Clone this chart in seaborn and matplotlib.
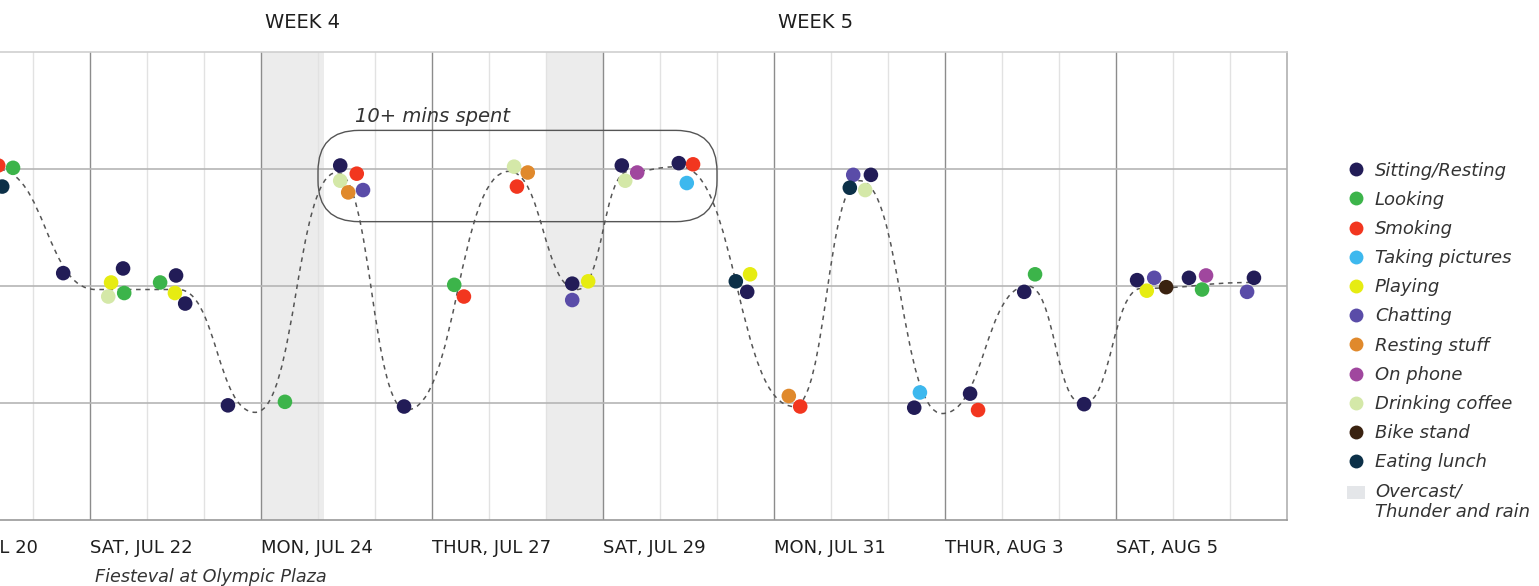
import pandas as pd
import seaborn as sns
import matplotlib.pyplot as plt
from matplotlib.path import Path
from matplotlib.patches import PathPatch, FancyBboxPatch, Patch
from matplotlib.lines import Line2D

sns.set_style('white')
plt.rcParams['font.family'] = ['DejaVu Sans']

# activity categories and their colours
activities = ['Sitting/Resting', 'Looking', 'Smoking', 'Taking pictures', 'Playing',
              'Chatting', 'Resting stuff', 'On phone', 'Drinking coffee', 'Bike stand',
              'Eating lunch']
activity_colors = ['#221c57', '#3cb44a', '#f2361f', '#3db8ee', '#e6ec12',
                   '#5a4ca8', '#e0892c', '#a0479e', '#d4e8a8', '#3a2210',
                   '#0c3048']

# observed dots: position along the sessions axis and time-spent level
dot_x = [1.39, 1.65, 1.46, 2.53, 3.58, 3.37, 3.60, 3.32, 4.23, 4.51, 4.49, 4.67, 5.42,
         6.42, 7.39, 7.68, 7.39, 7.53, 7.79, 8.51, 9.39, 9.56, 10.44, 10.49, 10.68,
         11.46, 11.46, 11.74, 12.33, 12.60, 12.39, 13.33, 13.58, 13.47, 14.33, 14.58, 14.53,
         15.26, 15.46, 16.39, 16.70, 16.33, 16.60, 17.56, 17.46, 18.44, 18.58, 19.39, 19.58,
         20.44, 21.37, 21.67, 21.54, 21.88, 22.28, 22.58, 22.51, 23.42, 23.30]
dot_level = [3.03, 3.01, 2.85, 2.11, 2.15, 2.03, 1.94, 1.91, 2.03, 2.09, 1.94, 1.85, 0.98,
             1.01, 3.03, 2.96, 2.90, 2.80, 2.82, 0.97, 2.01, 1.91, 3.02, 2.85, 2.97,
             2.02, 1.88, 2.04, 3.03, 2.97, 2.90, 3.05, 3.04, 2.88, 2.04, 2.10, 1.95,
             1.06, 0.97, 2.95, 2.95, 2.84, 2.82, 1.09, 0.96, 1.08, 0.94, 1.95, 2.10,
             0.99, 2.05, 2.07, 1.96, 1.99, 2.07, 2.09, 1.97, 2.07, 1.95]
dot_activity = ['Smoking', 'Looking', 'Eating lunch', 'Sitting/Resting', 'Sitting/Resting',
                'Playing', 'Looking', 'Drinking coffee', 'Looking', 'Sitting/Resting',
                'Playing', 'Sitting/Resting', 'Sitting/Resting',
                'Looking', 'Sitting/Resting', 'Smoking', 'Drinking coffee', 'Resting stuff',
                'Chatting', 'Sitting/Resting', 'Looking', 'Smoking', 'Drinking coffee',
                'Smoking', 'Resting stuff',
                'Sitting/Resting', 'Chatting', 'Playing', 'Sitting/Resting', 'On phone',
                'Drinking coffee', 'Sitting/Resting', 'Smoking', 'Taking pictures',
                'Eating lunch', 'Playing', 'Sitting/Resting',
                'Resting stuff', 'Smoking', 'Chatting', 'Sitting/Resting', 'Eating lunch',
                'Drinking coffee', 'Taking pictures', 'Sitting/Resting', 'Sitting/Resting',
                'Smoking', 'Sitting/Resting', 'Looking',
                'Sitting/Resting', 'Sitting/Resting', 'Chatting', 'Playing', 'Bike stand',
                'Sitting/Resting', 'On phone', 'Looking', 'Sitting/Resting', 'Chatting']

# turning points of the dashed trend line
curve_x = [0.3, 1.35, 3.1, 4.55, 5.9, 7.33, 8.55, 10.35, 11.55, 12.45, 13.35,
           15.35, 16.5, 17.95, 19.45, 20.42, 21.45, 23.4]
curve_level = [3.0, 3.0, 1.97, 1.97, 0.92, 2.97, 0.94, 2.98, 1.97, 2.98, 3.02,
               0.97, 2.9, 0.91, 2.0, 0.99, 1.98, 2.03]

date_ticks = [0, 3, 6, 9, 12, 15, 18, 21]
date_labels = ['THUR, JUL 20', 'SAT, JUL 22', 'MON, JUL 24', 'THUR, JUL 27',
               'SAT, JUL 29', 'MON, JUL 31', 'THUR, AUG 3', 'SAT, AUG 5']
week_x = [6, 15]
week_labels = ['WEEK 4', 'WEEK 5']
overcast_start = [6, 11]
overcast_end = [7.1, 12]
highlight_x = [7.0, 14.0]
highlight_level = [2.55, 3.33]

df = pd.DataFrame({'x': dot_x, 'level': dot_level, 'activity': dot_activity})
palette = dict(zip(activities, activity_colors))

W, H = 1539, 586
fig = plt.figure(figsize=(W / 100, H / 100), dpi=100)
ax = fig.add_axes([-81 / W, 66 / H, 1368 / W, 468 / H])
ax.set_xlim(0, 24)
ax.set_ylim(0, 4)

# grid
for x in range(1, 24):
    major = x % 3 == 0
    ax.axvline(x, color='#8c8c8c' if major else '#e2e2e2', lw=1.0, zorder=1)
for y in [1, 2, 3]:
    ax.axhline(y, color='#b5b5b5', lw=1.2, zorder=1)
for a, b in zip(overcast_start, overcast_end):
    ax.axvspan(a, b, color='#ececec', lw=0, zorder=0.5)

# dashed smooth trend
nodes = list(zip(curve_x, curve_level))
verts = [nodes[0]]
codes = [Path.MOVETO]
for (x0, y0), (x1, y1) in zip(nodes[:-1], nodes[1:]):
    dx = (x1 - x0) * 0.5
    verts += [(x0 + dx, y0), (x1 - dx, y1), (x1, y1)]
    codes += [Path.CURVE4] * 3
ax.add_patch(PathPatch(Path(verts, codes), fill=False, edgecolor='#555555',
                       lw=1.1, linestyle=(0, (3, 3)), zorder=2))

sns.scatterplot(data=df, x='x', y='level', hue='activity', hue_order=activities,
                palette=palette, s=110, linewidth=0, legend=False, zorder=3, ax=ax)

# rounded highlight box
px_x = 1368 / 24
px_y = 468 / 4
ax.add_patch(FancyBboxPatch((highlight_x[0], highlight_level[0]),
                            highlight_x[1] - highlight_x[0],
                            highlight_level[1] - highlight_level[0],
                            boxstyle='round,pad=0,rounding_size=0.72',
                            mutation_aspect=px_x / px_y,
                            fill=False, edgecolor='#555555', lw=1.0, zorder=2))
ax.text(highlight_x[0] + 0.65, highlight_level[1] + 0.12, '10+ mins spent',
        fontsize=14, style='italic', color='#333333', va='center', ha='left')

# axes styling
ax.set_xticks(date_ticks)
ax.set_xticklabels(date_labels, ha='left', fontsize=13, color='#1e1e1e')
ax.tick_params(axis='x', length=0, pad=14)
ax.set_yticks([])
ax.set_xlabel('')
ax.set_ylabel('')
for side, c in [('top', '#cfcfcf'), ('right', '#b0b0b0'), ('bottom', '#999999')]:
    ax.spines[side].set_color(c)
    ax.spines[side].set_linewidth(1.2)
ax.spines['left'].set_visible(False)

xt = ax.get_xaxis_transform()
for x, lab in zip(week_x, week_labels):
    ax.text(x + 0.07, 1.064, lab, transform=xt, fontsize=14, color='#1e1e1e',
            ha='left', va='center')
ax.text(3.09, -0.122, 'Fiesteval at Olympic Plaza', transform=xt, fontsize=12.7,
        style='italic', color='#333333', ha='left', va='center')

# legend
handles = [Line2D([], [], marker='o', ls='', markersize=10, markeredgewidth=0,
                  color=c) for c in activity_colors]
handles.append(Patch(facecolor='#e4e6e9', edgecolor='none'))
labels = activities + ['Overcast/\nThunder and rain']
leg = fig.legend(handles, labels, loc='upper left', bbox_to_anchor=(1338 / W, 1 - 152.5 / H),
                 frameon=False, borderpad=0, handlelength=1.0, handletextpad=0.55,
                 labelspacing=0.62, prop={'size': 13, 'style': 'italic'})
for t in leg.get_texts():
    t.set_color('#333333')
# square swatch sits level with the first line of its two-line label
swatch = leg.legend_handles[-1]
swatch.set_y(swatch.get_y() + 7.2)

fig.savefig('out.png', dpi=100)
